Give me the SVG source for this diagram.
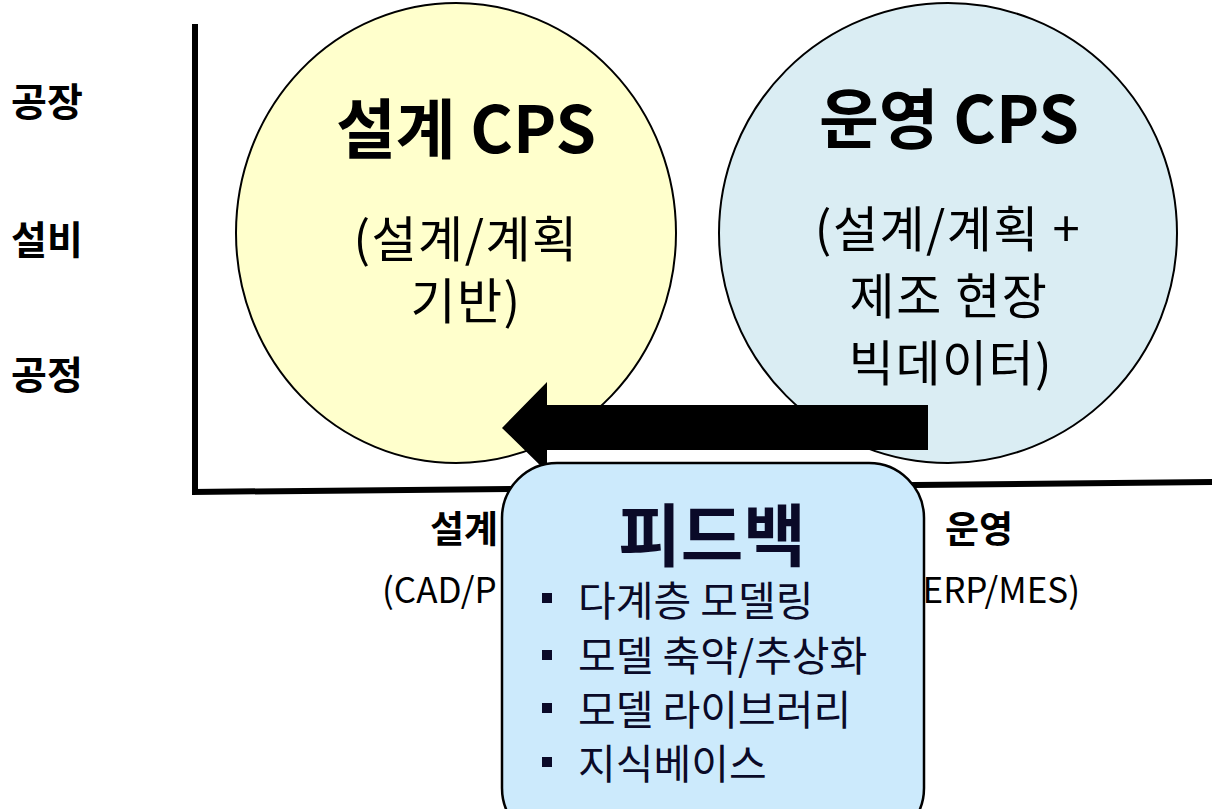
<svg xmlns="http://www.w3.org/2000/svg" width="1212" height="809" viewBox="0 0 1212 809">
<style>
.k{font-family:"Noto Sans CJK KR","Noto Sans",sans-serif;}
.lbl{font-size:39px;font-weight:bold;fill:#000;}
.title{font-size:65px;font-weight:bold;fill:#000;text-anchor:middle;}
.sub{font-size:49px;fill:#000;text-anchor:middle;letter-spacing:1.5px;}
.axb{font-size:37px;font-weight:bold;fill:#000;}
.ax{font-size:35px;fill:#000;}
.fb{font-size:68px;font-weight:bold;fill:#0a0a28;text-anchor:middle;}
.it{font-size:41px;fill:#0a0a28;}
.blt{fill:#0a0a28;}
</style>
<rect width="1212" height="809" fill="#fff"/>
<g id="axes" stroke="#000" stroke-width="6" fill="none">
<line x1="195" y1="24" x2="195" y2="493"/>
<line x1="192" y1="492" x2="1212" y2="482"/>
</g>
<g id="axis-y-labels" class="k">
<text class="lbl" x="11" y="116">공장</text>
<text class="lbl" x="11" y="254">설비</text>
<text class="lbl" x="11" y="389">공정</text>
</g>
<g id="design-cps">
<ellipse cx="456" cy="233" rx="220" ry="230" fill="#ffffcc" stroke="#000" stroke-width="2"/>
<text class="k title" x="466" y="153">설계 CPS</text>
<text class="k sub" x="466" y="257">(설계/계획</text>
<text class="k sub" x="466" y="319">기반)</text>
</g>
<g id="operation-cps">
<ellipse cx="948" cy="233" rx="229" ry="230" fill="#daedf3" stroke="#000" stroke-width="2"/>
<text class="k title" x="949" y="143">운영 CPS</text>
<text class="k sub" x="948" y="247">(설계/계획 +</text>
<text class="k sub" x="949" y="314">제조 현장</text>
<text class="k sub" x="951" y="381">빅데이터)</text>
</g>
<g id="axis-x-labels" class="k">
<text class="axb" x="430" y="543">설계</text>
<text class="ax" x="382" y="603">(CAD/P</text>
<text class="axb" x="945" y="543">운영</text>
<text class="ax" x="1080" y="603" text-anchor="end">ERP/MES)</text>
</g>
<g id="connectors">
<polygon points="502,428 547,382 547,405 928,405 928,450 547,450 547,472" fill="#000"/>
</g>
<g id="feedback">
<rect x="502" y="463" width="422" height="380" rx="55" ry="55" fill="#cceafc" stroke="#000" stroke-width="2.5"/>
<text class="k fb" x="712" y="561">피드백</text>
<g class="k it">
<rect class="blt" x="542" y="593" width="10" height="10"/>
<text x="578" y="616">다계층 모델링</text>
<rect class="blt" x="542" y="650" width="10" height="10"/>
<text x="578" y="671">모델 축약/추상화</text>
<rect class="blt" x="542" y="703" width="10" height="10"/>
<text x="578" y="725">모델 라이브러리</text>
<rect class="blt" x="542" y="757" width="10" height="10"/>
<text x="578" y="779">지식베이스</text>
</g>
</g>
</svg>
